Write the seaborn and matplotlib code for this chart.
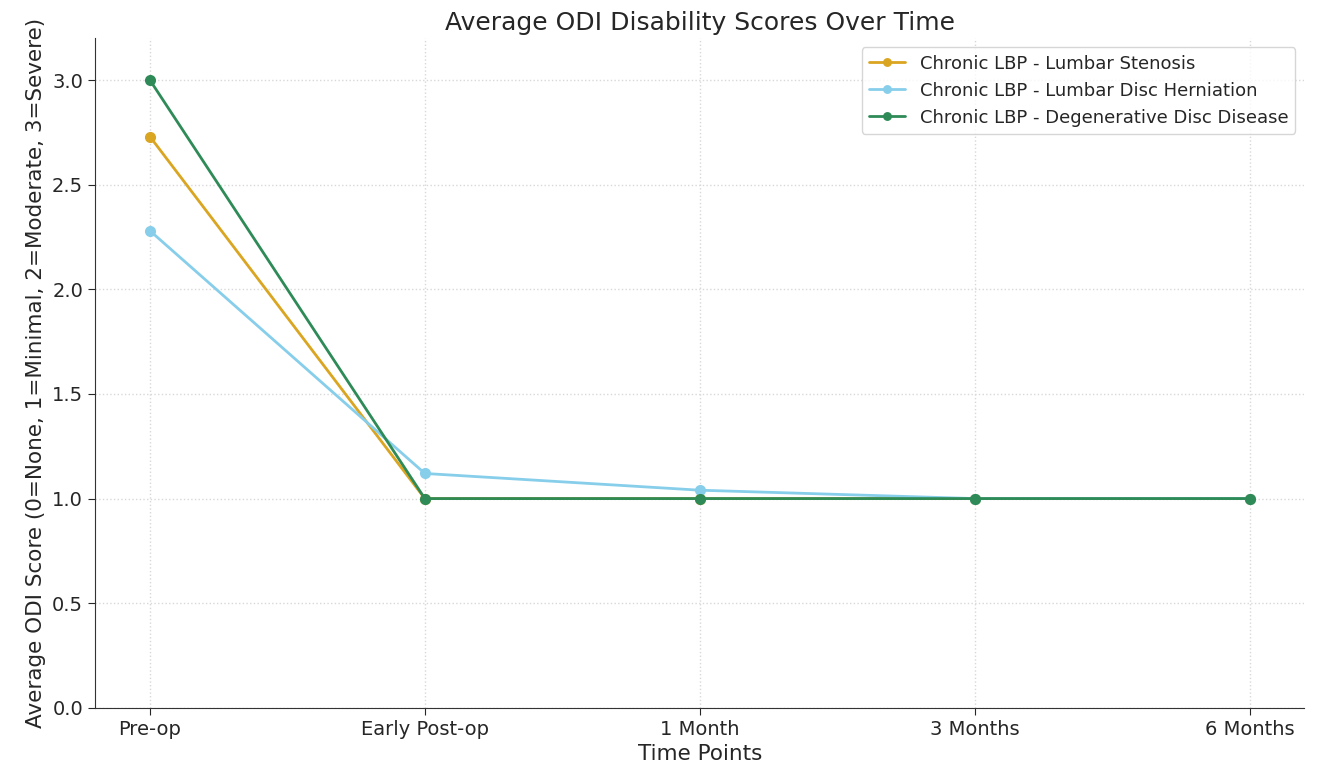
import pandas as pd
import matplotlib
matplotlib.use("Agg")
import matplotlib.pyplot as plt
import seaborn as sns

# time points and average ODI scores per group
time_points = ["Pre-op", "Early Post-op", "1 Month", "3 Months", "6 Months"]
stenosis = [2.73, 1.0, 1.0, 1.0, 1.0]
herniation = [2.28, 1.12, 1.04, 1.0, 1.0]
degenerative = [3.0, 1.0, 1.0, 1.0, 1.0]

groups = ["Chronic LBP - Lumbar Stenosis",
          "Chronic LBP - Lumbar Disc Herniation",
          "Chronic LBP - Degenerative Disc Disease"]
colors = ["#DAA520", "#87CEEB", "#2E8B57"]

df = pd.concat([
    pd.DataFrame({"Time": time_points, "Score": vals, "Group": g})
    for g, vals in zip(groups, [stenosis, herniation, degenerative])
])

sns.set_style("white")
plt.rcParams["font.family"] = ["DejaVu Sans"]

fig = plt.figure(figsize=(13.19, 7.66), dpi=100)
ax = fig.add_axes([0.072, 0.076, 0.917, 0.874])
sns.lineplot(data=df, x="Time", y="Score", hue="Group", palette=colors,
             marker="o", markersize=8, markeredgewidth=0, linewidth=2,
             sort=False, ax=ax)

ax.set_ylim(0, 3.2)
ax.set_yticks([0, 0.5, 1.0, 1.5, 2.0, 2.5, 3.0])
ax.grid(True, linestyle=":", color="#d8d8d8", linewidth=1)
ax.tick_params(axis="both", labelsize=14, length=5, left=True, bottom=True)
for s in ["top", "right"]:
    ax.spines[s].set_visible(False)
for s in ["left", "bottom"]:
    ax.spines[s].set_color("#333333")
ax.set_title("Average ODI Disability Scores Over Time", fontsize=18)
ax.set_xlabel("Time Points", fontsize=15.5)
ax.set_ylabel("Average ODI Score (0=None, 1=Minimal, 2=Moderate, 3=Severe)", fontsize=15.5)
ax.legend(title=None, fontsize=13, loc="upper right", frameon=True,
          markerscale=0.8)

plt.savefig("out.png", dpi=100)
plt.close()
